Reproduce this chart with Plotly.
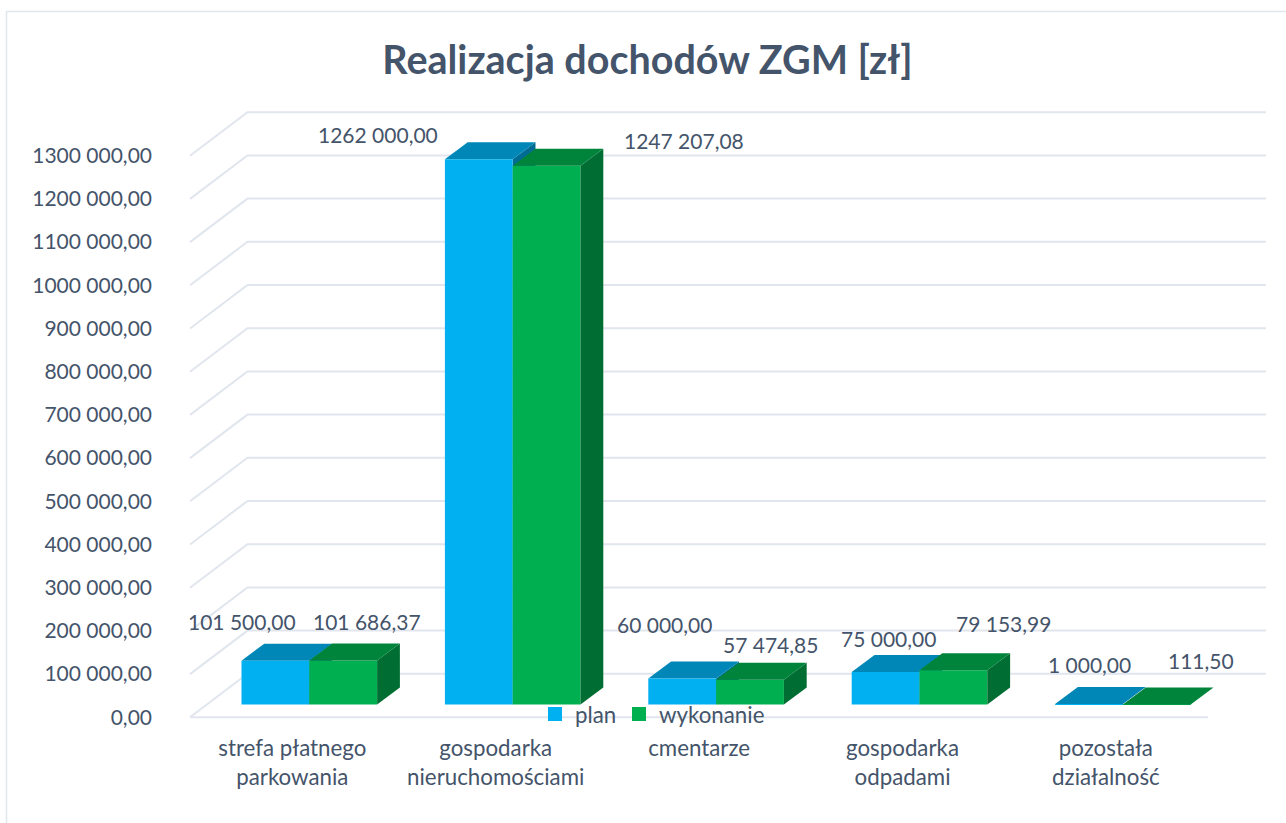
import plotly.graph_objects as go

# ---- data ----
categories = ["strefa płatnego<br>parkowania", "gospodarka<br>nieruchomościami", "cmentarze",
              "gospodarka<br>odpadami", "pozostała<br>działalność"]
plan = [101500.00, 1262000.00, 60000.00, 75000.00, 1000.00]
wykonanie = [101686.37, 1247207.08, 57474.85, 79153.99, 111.50]
axis_ticks = list(range(0, 1300001, 100000))

# ---- label placement (px offset from the bar's top centre) ----
plan_label_shift = [(-33, 39), (-101, 25), (-18, 54), (3, 34), (0, 40)]
wyk_label_shift = [(24, 39), (137, 25), (20, 35), (50, 47), (44, 44)]

# ---- geometry: scales in pixels ----
W, H = 1286, 823
L, R, T, B = 155, 1275, 90, 730          # plot box
CAT_PX = 203.4                           # px per category
VAL_PX = 0.000432                        # px per value unit
BAR_W = 1 / 3
DEPTH_X, DEPTH_Y = 22.8 / CAT_PX, 17 / VAL_PX    # bar depth
WALL_X, WALL_Y = 57.5 / CAT_PX, 43.5 / VAL_PX    # floor depth


def xr(center_px):
    return [(L - center_px) / CAT_PX, (R - center_px) / CAT_PX]


def yr(zero_px):
    return [(zero_px - B) / VAL_PX, (zero_px - T) / VAL_PX]


LABEL_ZERO_X = 292.3      # category labels
BAR_ZERO_X = 309.3        # bar group centre
FRONT_ZERO_Y = 717.3      # front edge of the floor
BAR_ZERO_Y = 704.5        # front base of bars

INK = "#44546A"
GRID = "#E1E6EE"
FONT = "Lato"
FS = 21
FS_CAT = 22.3
BLUE, GREEN = "#00B0F0", "#00B050"


def fmt(v):
    cents = round(v * 100)
    whole, frac = cents // 100, cents % 100
    if whole >= 1000:
        return f"{whole // 1000} {whole % 1000:03d},{frac:02d}"
    return f"{whole},{frac:02d}"


fig = go.Figure()

# ---- walls and floor (primary axes) ----
left = (190 - LABEL_ZERO_X) / CAT_PX
back_left = left + WALL_X
back_right = (1266 - LABEL_ZERO_X) / CAT_PX
front_right = (1208 - LABEL_ZERO_X) / CAT_PX
gx, gy = [], []
for v in axis_ticks:
    gx += [left, back_left, back_right, None]
    gy += [v, v + WALL_Y, v + WALL_Y, None]
gx += [left, front_right, None]
gy += [0, 0, None]
fig.add_trace(go.Scatter(x=gx, y=gy, mode="lines", line=dict(color=GRID, width=2),
                         hoverinfo="skip", showlegend=False, xaxis="x", yaxis="y"))


def depth_faces(values, offset, top_col, side_col, xa, ya):
    for i, v in enumerate(values):
        x0 = i + offset
        x1 = x0 + BAR_W
        fig.add_trace(go.Scatter(
            x=[x1, x1 + DEPTH_X, x1 + DEPTH_X, x1, x1],
            y=[0, DEPTH_Y, v + DEPTH_Y, v, 0],
            mode="lines", fill="toself", fillcolor=side_col, line=dict(width=0),
            hoverinfo="skip", showlegend=False, xaxis=xa, yaxis=ya))
        fig.add_trace(go.Scatter(
            x=[x0, x1, x1 + DEPTH_X, x0 + DEPTH_X, x0],
            y=[v, v, v + DEPTH_Y, v + DEPTH_Y, v],
            mode="lines", fill="toself", fillcolor=top_col, line=dict(width=0),
            hoverinfo="skip", showlegend=False, xaxis=xa, yaxis=ya))


# plan depth faces lie behind every front face
depth_faces(plan, -BAR_W, "#0087B8", "#006C94", "x2", "y2")

# front faces
idx = list(range(len(categories)))
fig.add_trace(go.Bar(x=idx, y=plan, name="plan", marker=dict(color=BLUE, line=dict(width=0)),
                     showlegend=False, xaxis="x3", yaxis="y3"))
fig.add_trace(go.Bar(x=idx, y=wykonanie, name="wykonanie", marker=dict(color=GREEN, line=dict(width=0)),
                     showlegend=False, xaxis="x3", yaxis="y3"))

# wykonanie depth faces
depth_faces(wykonanie, 0, "#00843C", "#006E32", "x3", "y3")

# legend entries with square swatches
for name, col, leg in (("plan", BLUE, "legend"), ("wykonanie", GREEN, "legend2")):
    fig.add_trace(go.Scatter(x=[None], y=[None], mode="markers", name=name, legend=leg, showlegend=True,
                             marker=dict(symbol="square", size=14, color=col),
                             xaxis="x3", yaxis="y3"))

# ---- data labels ----
annotations = []
for series, shifts, off in ((plan, plan_label_shift, -BAR_W / 2), (wykonanie, wyk_label_shift, BAR_W / 2)):
    for i, v in enumerate(series):
        annotations.append(dict(x=i + off, y=v, xref="x3", yref="y3", text=fmt(v), showarrow=False,
                                xanchor="center", yanchor="middle", xshift=shifts[i][0], yshift=shifts[i][1],
                                font=dict(family=FONT, size=FS, color=INK)))

hidden = dict(visible=False, fixedrange=True)
legend_common = dict(orientation="h", y=(B - 714) / (B - T), xanchor="left", yanchor="middle",
                     bgcolor="rgba(0,0,0,0)", font=dict(family=FONT, size=FS_CAT, color=INK))
fig.update_layout(
    width=W, height=H,
    margin=dict(l=L, r=W - R, t=T, b=H - B, autoexpand=False),
    paper_bgcolor="white", plot_bgcolor="rgba(0,0,0,0)",
    font=dict(family=FONT, size=FS, color=INK),
    title=dict(text="<b>Realizacja dochodów ZGM [zł]</b>", x=647.5 / W, xanchor="center",
               y=1 - 60 / H, yanchor="middle", font=dict(family=FONT, size=39.5, color=INK)),
    barmode="group", bargap=1 / 3, bargroupgap=0,
    xaxis=dict(range=xr(LABEL_ZERO_X), tickvals=idx, ticktext=categories, showgrid=False, zeroline=False,
               showline=False, ticks="", ticklabelstandoff=3,
               tickfont=dict(family=FONT, size=FS_CAT, color=INK), fixedrange=True),
    yaxis=dict(range=yr(FRONT_ZERO_Y), tickvals=axis_ticks, ticktext=[fmt(v) for v in axis_ticks],
               showgrid=False, zeroline=False, showline=False, ticks="", ticklabelstandoff=2,
               tickfont=dict(family=FONT, size=FS, color=INK), fixedrange=True),
    xaxis2=dict(range=xr(BAR_ZERO_X), overlaying="x", **hidden),
    yaxis2=dict(range=yr(BAR_ZERO_Y), overlaying="y", **hidden),
    xaxis3=dict(range=xr(BAR_ZERO_X), overlaying="x", **hidden),
    yaxis3=dict(range=yr(BAR_ZERO_Y), overlaying="y", **hidden),
    legend=dict(x=(535 - L) / (R - L), **legend_common),
    legend2=dict(x=(619 - L) / (R - L), **legend_common),
    annotations=annotations,
    shapes=[dict(type="rect", xref="paper", yref="paper", layer="below",
                 x0=(6.5 - L) / (R - L), x1=(W + 10 - L) / (R - L),
                 y0=(B - (H + 10)) / (B - T), y1=(B - 11.5) / (B - T),
                 line=dict(color="#E1E6EE", width=1.5), fillcolor="rgba(0,0,0,0)")],
    hovermode=False,
)

fig.write_html("out.html", config={"displayModeBar": False},
               post_script="document.body.style.margin='0';document.body.style.overflow='hidden';")
